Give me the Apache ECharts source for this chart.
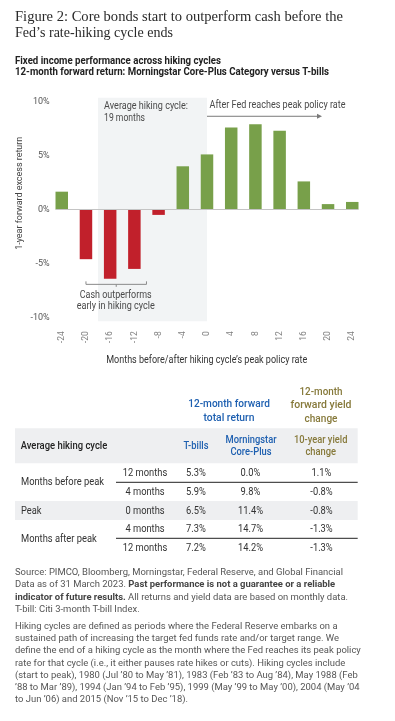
<!DOCTYPE html>
<html><head><meta charset="utf-8">
<script src="https://cdn.jsdelivr.net/npm/echarts@6/dist/echarts.min.js"></script>
<style>html,body{margin:0;padding:0;background:#fff}#c{width:395px;height:721px}</style>
</head><body><div id="c"></div>
<script>
// ---------- DATA ----------
const months = [-24, -20, -16, -12, -8, -4, 0, 4, 8, 12, 16, 20, 24];
const excessReturn = [1.65, -4.6, -6.4, -5.5, -0.5, 4.0, 5.1, 7.6, 7.9, 7.3, 2.6, 0.5, 0.7];
const xTicks = [-24, -20, -16, -12, -8, -4, 0, 4, 8, 12, 16, 20, 24];
const yTicks = [-10, -5, 0, 5, 10];
const hikingStart = -18, hikingEnd = 0;
const bracketFrom = -20, bracketTo = -10, bracketY = -6.93;
const arrowFrom = 0, arrowTo = 19, arrowY = 8.63;

const titleLines = ["Figure 2: Core bonds start to outperform cash before the", "Fed\u2019s rate-hiking cycle ends"];
const subtitleLines = ["Fixed income performance across hiking cycles", "12-month forward return: Morningstar Core-Plus Category versus T-bills"];
const yAxisTitle = "1-year forward excess return";
const xAxisTitle = "Months before/after hiking cycle\u2019s peak policy rate";

const rowMonths = ["12 months", "4 months", "0 months", "4 months", "12 months"];
const tbills = [5.3, 5.9, 6.5, 7.3, 7.2];
const corePlus = [0.0, 9.8, 11.4, 14.7, 14.2];
const yieldChange = [1.1, -0.8, -0.8, -1.3, -1.3];
const rowGroups = ["Months before peak", "Peak", "Months after peak"];

const notes1 = [
  [["n", "Source: PIMCO, Bloomberg, Morningstar, Federal Reserve, and Global Financial"]],
  [["n", "Data as of 31 March 2023. "], ["b", "Past performance is not a guarantee or a reliable"]],
  [["b", "indicator of future results."], ["n", " All returns and yield data are based on monthly data."]],
  [["n", "T-bill: Citi 3-month T-bill Index."]]
];
const notes2 = [
  "Hiking cycles are defined as periods where the Federal Reserve embarks on a",
  "sustained path of increasing the target fed funds rate and/or target range. We",
  "define the end of a hiking cycle as the month where the Fed reaches its peak policy",
  "rate for that cycle (i.e., it either pauses rate hikes or cuts). Hiking cycles include",
  "(start to peak), 1980 (Jul \u201980 to May \u201981), 1983 (Feb \u201983 to Aug \u201984), May 1988 (Feb",
  "\u201988 to Mar \u201989), 1994 (Jan \u201994 to Feb \u201995), 1999 (May \u201999 to May \u201900), 2004 (May \u201904",
  "to Jun \u201906) and 2015 (Nov \u201915 to Dec \u201918)."
];

// ---------- STYLE ----------
const GREEN = '#78a04a', RED = '#c1202b', SHADE = '#f2f4f5';
const BLUE = '#1d5fb0', OLIVE = '#86793a';
const SANS = 'Roboto';

const mctx = document.createElement('canvas').getContext('2d');
function tw(text, size, weight, family) {
  mctx.font = (weight || 'normal') + ' ' + size + 'px ' + (family || SANS);
  return mctx.measureText(text).width;
}
function txt(text, x, y, o) {
  const sx = o.width ? o.width / tw(text, o.size, o.weight, o.family) : (o.scale || 1);
  return {
    type: 'text', x: x, y: y, scaleX: sx, rotation: o.rotation || 0, silent: true, z: 10,
    style: {
      text: text, x: 0, y: 0, fontSize: o.size, fontFamily: o.family || SANS,
      fontWeight: o.weight || 'normal', fill: o.color || '#333',
      align: o.align || 'left', verticalAlign: 'middle'
    }
  };
}

const chart = echarts.init(document.getElementById('c'), null, { renderer: 'canvas' });
chart.setOption({
  animation: false,
  grid: { left: 55.7, right: 36.7, top: 97.7, height: 223.6 },
  xAxis: {
    type: 'value', min: -25, max: 25,
    axisLine: { show: false }, axisTick: { show: false }, splitLine: { show: false },
    axisLabel: { customValues: xTicks, rotate: 90, margin: 10, fontSize: 8.5, color: '#808080', fontFamily: SANS }
  },
  yAxis: {
    type: 'value', min: -10.35, max: 10.35,
    axisLine: { show: false }, axisTick: { show: false }, splitLine: { show: false },
    axisLabel: { customValues: yTicks, formatter: v => Math.round(v) + '%', margin: 6, fontSize: 9, color: '#555', fontFamily: SANS }
  },
  series: [{
    type: 'bar', barWidth: 12.5,
    data: months.map((m, i) => [m, excessReturn[i]]),
    itemStyle: { color: p => (p.value[1] >= 0 ? GREEN : RED) },
    markArea: { silent: true, itemStyle: { color: SHADE }, data: [[{ xAxis: hikingStart }, { xAxis: hikingEnd }]] },
    markLine: { silent: true, symbol: 'none', label: { show: false }, lineStyle: { color: '#c4c4c4', width: 1, type: 'solid' }, data: [{ yAxis: 0 }] }
  }]
});

const P = (x, y) => chart.convertToPixel({ gridIndex: 0 }, [x, y]);
const g = [];

// titles
g.push(txt(titleLines[0], 15, 17.3, { size: 15, family: 'Liberation Serif', color: '#2a2a2a', width: 328 }));
g.push(txt(titleLines[1], 15, 33.3, { size: 15, family: 'Liberation Serif', color: '#2a2a2a', width: 158 }));
g.push(txt(subtitleLines[0], 15, 61.7, { size: 10.5, weight: 'bold', color: '#222', width: 206 }));
g.push(txt(subtitleLines[1], 15, 72.3, { size: 10.5, weight: 'bold', color: '#222', width: 314 }));

// axis titles
g.push(txt(yAxisTitle, 20, 193.3, { size: 9.5, color: '#444', align: 'center', rotation: Math.PI / 2, width: 113 }));
g.push(txt(xAxisTitle, 206.7, 360, { size: 10, color: '#333', align: 'center', width: 201 }));

// annotations
const sh = P(hikingStart, 10);
g.push(txt("Average hiking cycle:", sh[0] + 6, 106.7, { size: 10, color: '#4a4a4a', width: 84 }));
g.push(txt("19 months", sh[0] + 6, 118.3, { size: 10, color: '#4a4a4a', width: 41 }));
const a0 = P(arrowFrom, arrowY), a1 = P(arrowTo, arrowY);
g.push(txt("After Fed reaches peak policy rate", a0[0] + 2.5, 105.7, { size: 10, color: '#4a4a4a', width: 136 }));
g.push({ type: 'line', silent: true, z: 10, shape: { x1: a0[0], y1: a0[1], x2: a1[0] - 4, y2: a1[1] }, style: { stroke: '#7a7a7a', lineWidth: 1 } });
g.push({ type: 'polygon', silent: true, z: 10, shape: { points: [[a1[0], a1[1]], [a1[0] - 5, a1[1] - 2.5], [a1[0] - 5, a1[1] + 2.5]] }, style: { fill: '#7a7a7a' } });

const b0 = P(bracketFrom, bracketY), b1 = P(bracketTo, bracketY), bm = P((bracketFrom + bracketTo) / 2, bracketY);
g.push({ type: 'polyline', silent: true, z: 10, shape: { points: [[b0[0], b0[1] - 3], [b0[0], b0[1]], [b1[0], b1[1]], [b1[0], b1[1] - 3]] }, style: { stroke: '#8a8a8a', lineWidth: 1, fill: null } });
g.push({ type: 'line', silent: true, z: 10, shape: { x1: bm[0], y1: bm[1], x2: bm[0], y2: bm[1] + 2.5 }, style: { stroke: '#8a8a8a', lineWidth: 1 } });
g.push(txt("Cash outperforms", bm[0] - 0.5, 295, { size: 10, color: '#4a4a4a', align: 'center', width: 72 }));
g.push(txt("early in hiking cycle", bm[0] - 0.5, 306.3, { size: 10, color: '#4a4a4a', align: 'center', width: 78 }));

// ---------- TABLE ----------
const TS = 83 / tw("Months before peak", 10);
const colX = { months: 145, tb: 196, cp: 250.5, yc: 321.5 };
const hw = 500;
g.push(txt("12-month forward", 229, 404.3, { size: 10.5, weight: hw, color: BLUE, align: 'center', width: 81.7 }));
g.push(txt("total return", 229, 418.3, { size: 10.5, weight: hw, color: BLUE, align: 'center', width: 51 }));
g.push(txt("12-month", 321, 392.3, { size: 10.5, weight: hw, color: OLIVE, align: 'center', width: 43 }));
g.push(txt("forward yield", 321, 405, { size: 10.5, weight: hw, color: OLIVE, align: 'center', width: 61 }));
g.push(txt("change", 321, 419, { size: 10.5, weight: hw, color: OLIVE, align: 'center', width: 33 }));

g.push({ type: 'rect', silent: true, z: 1, shape: { x: 15, y: 428.3, width: 342.7, height: 35 }, style: { fill: '#eeeff1' } });
g.push({ type: 'rect', silent: true, z: 1, shape: { x: 15, y: 501, width: 342.7, height: 19 }, style: { fill: '#eeeff1' } });
g.push(txt("Average hiking cycle", 20.7, 446.7, { size: 10, weight: hw, color: '#222', width: 86.6 }));
g.push(txt("T-bills", colX.tb, 446.7, { size: 10, weight: hw, color: BLUE, align: 'center', scale: TS }));
g.push(txt("Morningstar", 251, 440.7, { size: 10, weight: hw, color: BLUE, align: 'center', scale: TS }));
g.push(txt("Core-Plus", 251, 452, { size: 10, weight: hw, color: BLUE, align: 'center', scale: TS }));
g.push(txt("10-year yield", 320.7, 440.7, { size: 10, weight: hw, color: OLIVE, align: 'center', scale: TS }));
g.push(txt("change", 320.7, 452, { size: 10, weight: hw, color: OLIVE, align: 'center', scale: TS }));

const rowY = [473.3, 492.3, 511, 529.3, 548.3];
rowY.forEach((y, i) => {
  g.push(txt(rowMonths[i], colX.months, y, { size: 10, color: '#333', align: 'center', scale: TS }));
  g.push(txt(tbills[i].toFixed(1) + '%', colX.tb, y, { size: 10, color: '#333', align: 'center', scale: TS }));
  g.push(txt(corePlus[i].toFixed(1) + '%', colX.cp, y, { size: 10, color: '#333', align: 'center', scale: TS }));
  g.push(txt(yieldChange[i].toFixed(1) + '%', colX.yc, y, { size: 10, color: '#333', align: 'center', scale: TS }));
});
g.push(txt(rowGroups[0], 21, 482.3, { size: 10, color: '#333', scale: TS }));
g.push(txt(rowGroups[1], 21, 511, { size: 10, color: '#333', scale: TS }));
g.push(txt(rowGroups[2], 21, 539, { size: 10, color: '#333', scale: TS }));
[482.3, 538.3].forEach(y => g.push({ type: 'line', silent: true, z: 5, shape: { x1: 116, y1: y, x2: 357.7, y2: y }, style: { stroke: '#222', lineWidth: 1 } }));

// ---------- NOTES ----------
const NS = 9.5;
const NSC = 328 / tw(notes1[0][0][1], NS);
const richN = { n: { fontSize: NS, fontFamily: SANS, fill: '#555' }, b: { fontSize: NS, fontFamily: SANS, fontWeight: 'bold', fill: '#444' } };
const n1Y = [572.6, 585, 597.5, 609.7];
notes1.forEach((parts, i) => {
  g.push({
    type: 'text', x: 15, y: n1Y[i], scaleX: NSC, silent: true, z: 10,
    style: { text: parts.map(p => '{' + p[0] + '|' + p[1] + '}').join(''), x: 0, y: 0, rich: richN, fontSize: NS, fontFamily: SANS, fill: '#555', align: 'left', verticalAlign: 'middle' }
  });
});
notes2.forEach((line, i) => g.push(txt(line, 15, 626.7 + i * 12.2, { size: NS, color: '#555', scale: NSC })));

chart.setOption({ graphic: { elements: g } });
</script></body></html>
